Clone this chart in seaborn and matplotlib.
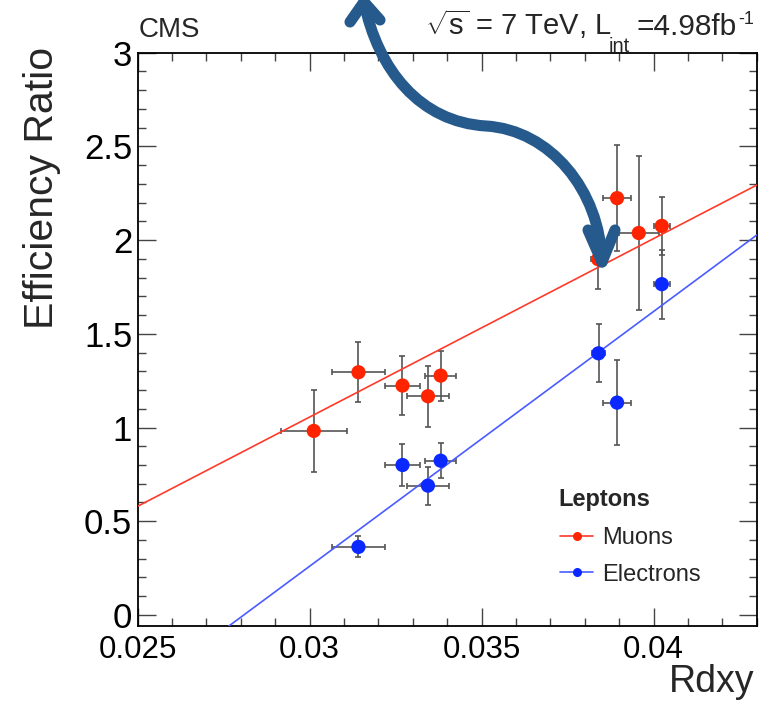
import numpy as np
import pandas as pd
import matplotlib
matplotlib.use("Agg")
import matplotlib.pyplot as plt
import seaborn as sns
from matplotlib.path import Path
from matplotlib.patches import PathPatch
from matplotlib.lines import Line2D
from matplotlib.ticker import MultipleLocator, FuncFormatter

# ---- measurements -------------------------------------------------------
muon_rdxy = [0.03012, 0.03142, 0.03270, 0.03344, 0.03381, 0.03839, 0.03894, 0.03957, 0.04024]
muon_rdxy_err = [0.00096, 0.00077, 0.00052, 0.00061, 0.00045, 0.00020, 0.00040, 0.00058, 0.00023]
muon_ratio = [0.982, 1.295, 1.224, 1.167, 1.277, 1.898, 2.224, 2.038, 2.076]
muon_ratio_err = [0.219, 0.161, 0.159, 0.163, 0.134, 0.160, 0.284, 0.409, 0.155]

electron_rdxy = [0.03142, 0.03270, 0.03344, 0.03381, 0.03840, 0.03894, 0.04024]
electron_rdxy_err = [0.00078, 0.00052, 0.00062, 0.00045, 0.00020, 0.00040, 0.00023]
electron_ratio = [0.363, 0.800, 0.690, 0.823, 1.396, 1.133, 1.765]
electron_ratio_err = [0.056, 0.111, 0.102, 0.093, 0.155, 0.227, 0.184]

# linear fits: (intercept, slope)
muon_fit = [-1.800, 95.2]
electron_fit = [-3.817, 135.9]

lepton_names = ["Muons", "Electrons"]
x_ticks = [0.025, 0.03, 0.035, 0.04]
y_ticks = [0, 0.5, 1, 1.5, 2, 2.5, 3]

RED = "#ff2400"
BLUE = "#0a28ff"
RED_LINE = "#ff3a2a"
BLUE_LINE = "#4a5cff"
ERR = "#555555"
ARROW = "#265a8c"

# ---- style --------------------------------------------------------------
sns.set_theme(style="ticks")
plt.rcParams["font.family"] = ["Liberation Sans", "DejaVu Sans"]
plt.rcParams["mathtext.fontset"] = "custom"
plt.rcParams["mathtext.rm"] = "Liberation Sans"
plt.rcParams["mathtext.it"] = "Liberation Sans:italic"
plt.rcParams["axes.linewidth"] = 1.3
plt.rcParams["axes.edgecolor"] = "black"

W, H = 766, 703
fig = plt.figure(figsize=(W / 100, H / 100), dpi=100)
fig.patch.set_facecolor("white")

left, right, top, bottom = 137.7, 756.7, 52.7, 626.0
ax = fig.add_axes([left / W, 1 - bottom / H, (right - left) / W, (bottom - top) / H])
ax.set_facecolor("white")

df = pd.concat([
    pd.DataFrame({"Rdxy": muon_rdxy, "ratio": muon_ratio, "xerr": muon_rdxy_err,
                  "yerr": muon_ratio_err, "lepton": lepton_names[0]}),
    pd.DataFrame({"Rdxy": electron_rdxy, "ratio": electron_ratio, "xerr": electron_rdxy_err,
                  "yerr": electron_ratio_err, "lepton": lepton_names[1]}),
], ignore_index=True)

xmin, xmax = 0.025, 0.043
ymin, ymax = -0.059, 3.0

# error bars
ax.errorbar(df["Rdxy"], df["ratio"], xerr=df["xerr"], yerr=df["yerr"], fmt="none",
            ecolor=ERR, elinewidth=1.2, capsize=2.5, capthick=1.2, zorder=2)

# fit lines
fit_x = np.array([xmin, xmax])
fit_df = pd.concat([
    pd.DataFrame({"Rdxy": fit_x, "ratio": muon_fit[0] + muon_fit[1] * fit_x, "lepton": lepton_names[0]}),
    pd.DataFrame({"Rdxy": fit_x, "ratio": electron_fit[0] + electron_fit[1] * fit_x, "lepton": lepton_names[1]}),
], ignore_index=True)
sns.lineplot(data=fit_df, x="Rdxy", y="ratio", hue="lepton",
             palette={lepton_names[0]: RED_LINE, lepton_names[1]: BLUE_LINE},
             linewidth=1.2, legend=False, ax=ax, zorder=3)

# points
sns.scatterplot(data=df, x="Rdxy", y="ratio", hue="lepton",
                palette={lepton_names[0]: RED, lepton_names[1]: BLUE},
                s=105, linewidth=0, legend=False, ax=ax, zorder=4)

ax.set_xlim(xmin, xmax)
ax.set_ylim(ymin, ymax)

ax.xaxis.set_minor_locator(MultipleLocator(0.001))
ax.yaxis.set_minor_locator(MultipleLocator(0.1))
ax.set_xticks(x_ticks)
ax.set_yticks(y_ticks)
fmt = FuncFormatter(lambda v, p: f"{v:g}")
ax.xaxis.set_major_formatter(fmt)
ax.yaxis.set_major_formatter(fmt)
ax.tick_params(which="both", direction="in", top=True, right=True, colors="#444444",
               labelcolor="black", width=1.0)
ax.tick_params(which="major", length=13)
ax.tick_params(axis="x", which="major", pad=6.5, labelsize=22.5)
ax.tick_params(axis="y", which="major", pad=4.0, labelsize=25)
ax.tick_params(which="minor", length=6)

ax.set_xlabel("Rdxy", fontsize=27, ha="right", va="baseline")
ax.xaxis.set_label_coords(1.0 - 2 / (right - left), (bottom - 692) / (bottom - top))
ax.set_ylabel("Efficiency Ratio", fontsize=29.5)
ax.yaxis.label.set_ha("center")
ax.yaxis.label.set_va("center")
ax.yaxis.set_label_coords((42 - left) / (right - left), (bottom - 188) / (bottom - top))

# legend
handles = [
    Line2D([], [], color=RED_LINE, lw=1.2, marker="o", markersize=6.5,
           markerfacecolor=RED, markeredgewidth=0),
    Line2D([], [], color=BLUE_LINE, lw=1.2, marker="o", markersize=6.5,
           markerfacecolor=BLUE, markeredgewidth=0),
]
leg = ax.legend(handles, lepton_names, loc="upper left",
                bbox_to_anchor=((560 - left) / (right - left), (bottom - 527) / (bottom - top)),
                frameon=False, fontsize=17,
                handlelength=1.4, handletextpad=0.4,
                borderpad=0, borderaxespad=0, labelspacing=0.62)
fig.text(558 / W, 1 - 506 / H, "Leptons", fontsize=17, fontweight="bold",
         ha="left", va="baseline")

# header texts
fig.text(139 / W, 1 - 37 / H, "CMS", fontsize=20, ha="left", va="baseline")

renderer = fig.canvas.get_renderer()


def place(s, x_right, baseline, size):
    t = fig.text(x_right / W, 1 - baseline / H, s, fontsize=size,
                 ha="right", va="baseline")
    return t.get_window_extent(renderer).x0


xr = place("-1", 754, 24, 13)
xr = place("=4.98fb", xr - 1, 35, 21.5)
xr = place("int", xr - 7, 52, 14.5)
place(r"$\sqrt{\mathrm{s}}$ = 7 TeV, L", xr + 3, 35, 21)

# curved double-headed arrow (pixel coordinates of the figure)
def P(x, y):
    return (x / W, 1 - y / H)

shaft = Path(
    [P(364, 2), P(378, 70), P(420, 122), P(486, 126),
     P(550, 130), P(600, 190), P(602, 262)],
    [Path.MOVETO, Path.CURVE4, Path.CURVE4, Path.CURVE4,
     Path.CURVE4, Path.CURVE4, Path.CURVE4])
head_bottom = Path([P(588, 230), P(602, 262), P(615, 230)])
head_top = Path([P(350, 22), P(364, 2), P(380, 20)])
for pth in (shaft, head_bottom, head_top):
    patch = PathPatch(pth, facecolor="none", edgecolor=ARROW, lw=8,
                      capstyle="round", joinstyle="round",
                      transform=fig.transFigure, zorder=10)
    fig.add_artist(patch)

fig.savefig("out.png", dpi=100, facecolor="white")
